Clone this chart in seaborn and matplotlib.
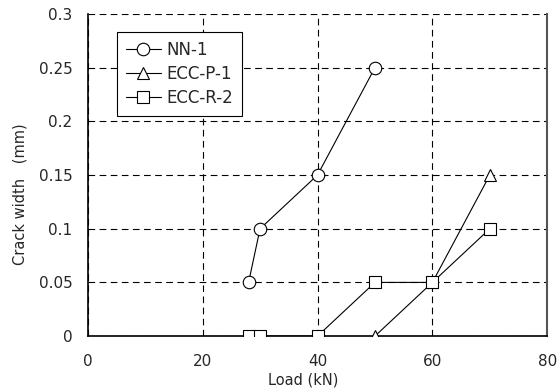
import matplotlib
matplotlib.use("Agg")
import matplotlib.pyplot as plt
import seaborn as sns
import pandas as pd

# data
nn1_load = [28, 30, 40, 50]
nn1_width = [0.05, 0.10, 0.15, 0.25]
eccp1_load = [50, 60, 70]
eccp1_width = [0.0, 0.05, 0.15]
eccr2_load = [28, 30, 40, 50, 60, 70]
eccr2_width = [0.0, 0.0, 0.0, 0.05, 0.05, 0.10]

series = [("NN-1", nn1_load, nn1_width, "o"),
          ("ECC-P-1", eccp1_load, eccp1_width, "^"),
          ("ECC-R-2", eccr2_load, eccr2_width, "s")]

sns.set_style("white")
plt.rcParams['font.family'] = ['DejaVu Sans', 'Noto Sans CJK JP']

fig = plt.figure(figsize=(5.59, 3.89), dpi=100)
ax = fig.add_axes([0.157, 0.136, 0.822, 0.828])

for name, x, y, m in series:
    df = pd.DataFrame({"load": x, "width": y})
    sns.lineplot(data=df, x="load", y="width", ax=ax, color="black", lw=0.8,
                 marker=m, markersize=9 if m != "s" else 8.5, markerfacecolor="white",
                 markeredgecolor="black", markeredgewidth=0.8, label=name, zorder=3)

ax.set_xlim(0, 80)
ax.set_ylim(0, 0.3)
ax.set_xticks([0, 20, 40, 60, 80])
ax.set_yticks([0, 0.05, 0.1, 0.15, 0.2, 0.25, 0.3])
ax.set_yticklabels(["0", "0.05", "0.1", "0.15", "0.2", "0.25", "0.3"])
ax.grid(True, color="black", linestyle=(0, (6, 4)), lw=0.8)
ax.tick_params(labelsize=11, length=0)
ax.tick_params(axis="x", pad=13)
ax.tick_params(axis="y", pad=11)
ax.set_xlabel("Load (kN)", fontsize=10.5)
ax.xaxis.set_label_coords(0.468, -0.112)
ax.set_ylabel("Crack width\u3000(mm)", fontsize=10.5)
ax.yaxis.set_label_coords(-0.131, 0.441)

ax.spines["top"].set_visible(False)
ax.spines["left"].set_color("black")
ax.spines["bottom"].set_color("black")
ax.spines["left"].set_linewidth(1.2)
ax.spines["bottom"].set_linewidth(1.2)
ax.spines["right"].set_color("#555555")
ax.spines["right"].set_linewidth(1.5)

leg = ax.legend(loc="upper left", bbox_to_anchor=(0.063, 0.944), fontsize=12,
                frameon=True, fancybox=False, edgecolor="black", framealpha=1,
                handlelength=2.1, handletextpad=0.3, borderpad=0.55, labelspacing=0.35,
                borderaxespad=0)
leg.get_frame().set_linewidth(0.8)

fig.savefig("out.png", dpi=100)
